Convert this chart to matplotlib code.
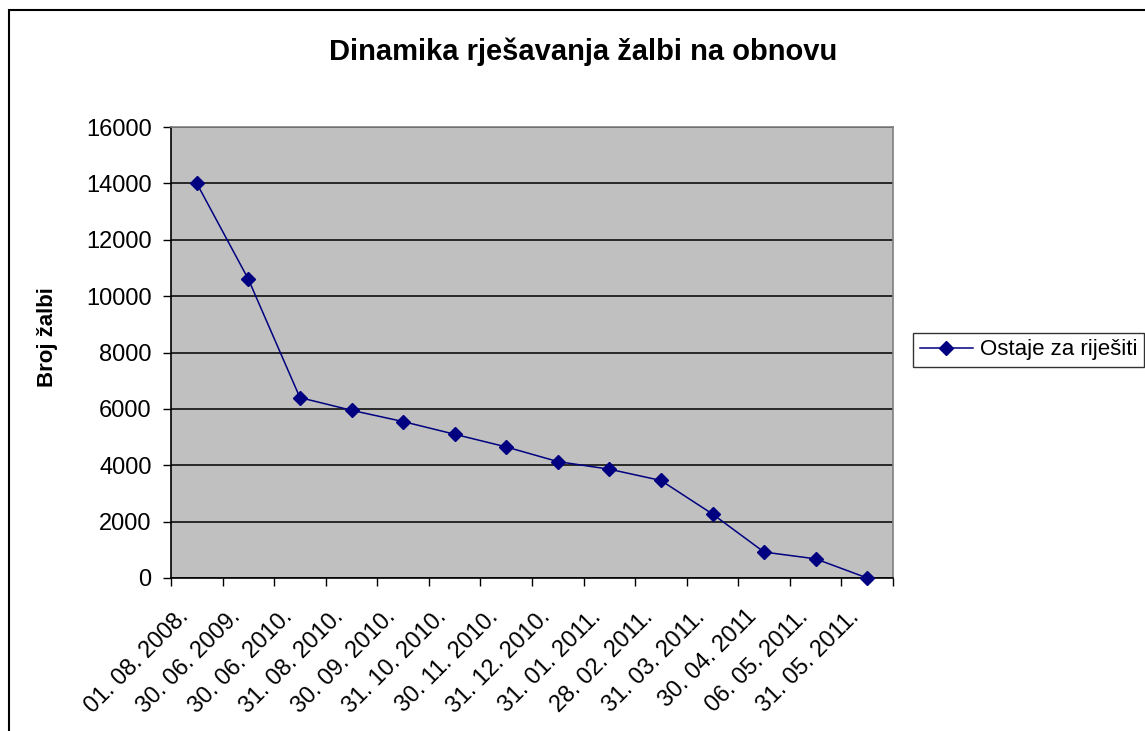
import matplotlib
matplotlib.use("Agg")
import matplotlib.pyplot as plt
from matplotlib.patches import Rectangle
from matplotlib.transforms import ScaledTranslation
import numpy as np

plt.rcParams['font.family'] = ['Liberation Sans', 'DejaVu Sans']

dates = ["01. 08. 2008.", "30. 06. 2009.", "30. 06. 2010.", "31. 08. 2010.",
         "30. 09. 2010.", "31. 10. 2010.", "30. 11. 2010.", "31. 12. 2010.",
         "31. 01. 2011.", "28. 02. 2011.", "31. 03. 2011.", "30. 04. 2011",
         "06. 05. 2011.", "31. 05. 2011."]
remaining = [14000, 10600, 6400, 5950, 5550, 5100, 4650, 4130,
             3860, 3460, 2270, 920, 680, 0]
series_name = "Ostaje za riješiti"

fig = plt.figure(figsize=(11.45, 7.31), dpi=100)
ax = fig.add_axes([171 / 1145, 1 - 578 / 731, (893 - 171) / 1145, (578 - 127) / 731])
ax.set_facecolor("#C0C0C0")

x = np.arange(len(dates))
line, = ax.plot(x, remaining, color="#000080", lw=1.1, marker="D", ms=7.5,
                markerfacecolor="#000080", markeredgecolor="#000080", zorder=3,
                clip_on=False)

ax.set_xlim(-0.5, len(dates) - 0.5)
ax.set_ylim(0, 16000)
ax.set_yticks(range(0, 16001, 2000))
ax.yaxis.grid(True, color="black", lw=1.1)
ax.set_axisbelow(True)

# excel style: ticks between categories, labels at centers
ax.set_xticks(np.arange(-0.5, len(dates), 1))
ax.set_xticklabels([])
ax.tick_params(axis="x", which="minor", length=0, pad=28.5)
ax.tick_params(axis="x", which="major", length=6, width=1, direction="out")
ax.tick_params(axis="y", length=6, width=1, pad=8, labelsize=17)
ax.set_xticks(x, minor=True)
ax.set_xticklabels(dates, minor=True, rotation=45, ha="right", va="baseline",
                   rotation_mode="anchor", fontsize=16.8)
shift = ScaledTranslation(-5 / 72, 0, fig.dpi_scale_trans)
for lbl in ax.get_xticklabels(minor=True):
    lbl.set_transform(lbl.get_transform() + shift)

for s in ["left", "bottom"]:
    ax.spines[s].set_color("black")
    ax.spines[s].set_linewidth(1.2)
for s in ["top", "right"]:
    ax.spines[s].set_color("#808080")
    ax.spines[s].set_linewidth(1.2)

fig.text(0.5096, 1 - 52 / 731, "Dinamika rješavanja žalbi na obnovu",
         ha="center", va="center", fontsize=21, fontweight="bold")
fig.text(47 / 1145, 1 - 337 / 731, "Broj žalbi", rotation=90,
         ha="center", va="center", fontsize=16, fontweight="bold")

leg = fig.legend([line], [series_name], loc="center left",
                 bbox_to_anchor=(913 / 1145, 1 - 350 / 731),
                 fontsize=16, frameon=True, fancybox=False,
                 borderpad=0.3, handlelength=2.4, handletextpad=0.3,
                 borderaxespad=0)
leg.get_frame().set_edgecolor("black")
leg.get_frame().set_linewidth(1.0)

# chart border, runs off the right and bottom edge
fig.patches.append(Rectangle((8.5 / 1145, -0.1), 1.2, 1 - 10 / 731 + 0.1,
                             transform=fig.transFigure, fill=False,
                             edgecolor="black", lw=1.5))

fig.savefig("out.png", dpi=100)
